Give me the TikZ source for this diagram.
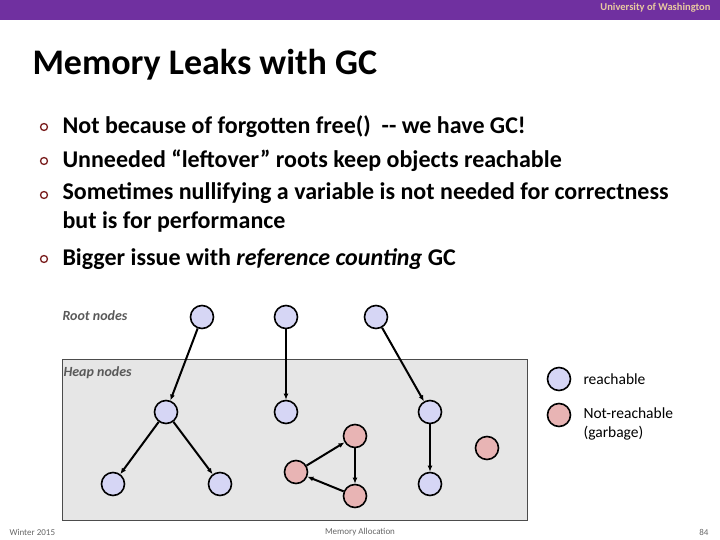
\documentclass[tikz,border=0pt]{standalone}
\usepackage{fontspec}
\setmainfont{Carlito}
\usetikzlibrary{arrows.meta}
\definecolor{uwpurple}{HTML}{7030A0}
\definecolor{uwgold}{HTML}{E8C9A0}
\definecolor{blu}{HTML}{D6D6F5}
\definecolor{pnk}{HTML}{E8B4B4}
\definecolor{heap}{HTML}{E6E6E6}
\definecolor{bul}{HTML}{7A1E1E}
\tikzset{
 nd/.style={circle,draw=black,line width=1.6pt,minimum size=23pt,inner sep=0pt},
 rn/.style={nd,fill=blu},
 gn/.style={nd,fill=pnk},
 ar/.style={-{Latex[length=6pt,width=5pt]},line width=2pt},
 lbl/.style={font=\bfseries\itshape\fontsize{14}{16}\selectfont,text=black!65,anchor=west},
 bl/.style={circle,draw=bul,line width=1.3pt,minimum size=7pt,inner sep=0pt},
 bt/.style={anchor=west,font=\bfseries\fontsize{24}{29}\selectfont,align=left},
 ft/.style={font=\fontsize{9}{10}\selectfont,text=black!60}
}
\begin{document}
\begin{tikzpicture}[x=1pt,y=-1pt]
\useasboundingbox (0,0) rectangle (720,540);
\fill[uwpurple] (0,0) rectangle (720,20);
\node[anchor=east,text=uwgold,font=\bfseries\fontsize{10.5}{11}\selectfont] (uw) at (714,8) {University of Washington};
\node[anchor=west,font=\bfseries\fontsize{36}{40}\selectfont] (title) at (29,65) {Memory Leaks with GC};
\node[bl] (b1) at (44,127) {}; \node[bt] (t1) at (59,127) {Not because of forgotten free() \ {-}{-} we have GC!};
\node[bl] (b2) at (44,161) {}; \node[bt] (t2) at (59,161) {Unneeded “leftover” roots keep objects reachable};
\node[bl] (b3) at (44,195) {}; \node[bt,anchor=north west] (t3) at (59,179) {Sometimes nullifying a variable is not needed for correctness\\but is for performance};
\node[bl] (b4) at (44,259) {}; \node[bt] (t4) at (59,259) {Bigger issue with \textit{reference counting} GC};
\draw[fill=heap,draw=black!70,line width=0.8pt] (62,359) rectangle (527,520);
\node[lbl] (rl) at (59,316) {Root nodes};
\node[lbl] (hl) at (60,373) {Heap nodes};
\node[rn] (r1) at (202,317) {}; \node[rn] (r2) at (286,317) {}; \node[rn] (r3) at (376,317) {};
\node[rn] (a) at (166,412) {}; \node[rn] (b) at (286,412) {}; \node[rn] (c) at (430,412) {};
\node[rn] (d) at (113,484) {}; \node[rn] (e) at (220,484) {}; \node[rn] (f) at (430,484) {};
\node[gn] (g1) at (355,436) {}; \node[gn] (g2) at (296,472) {}; \node[gn] (g3) at (355,496) {};
\node[gn] (g) at (487,448) {};
\draw[ar] (r1) -- (a); \draw[ar] (r2) -- (b); \draw[ar] (r3) -- (c);
\draw[ar] (a) -- (d); \draw[ar] (a) -- (e); \draw[ar] (c) -- (f);
\draw[ar] (g1) -- (g3); \draw[ar] (g3) -- (g2); \draw[ar] (g2) -- (g1);
\node[rn] (lb) at (559,379) {}; \node[gn] (lp) at (559,415) {};
\node[anchor=west,font=\fontsize{15.5}{18}\selectfont] (lbt) at (580,379) {reachable};
\node[anchor=north west,align=left,font=\fontsize{15.5}{19.5}\selectfont] (lpt) at (580,404) {Not-reachable\\(garbage)};
\node[ft,anchor=west] (f1) at (6,532) {Winter 2015};
\node[ft] (f2) at (360,532) {Memory Allocation};
\node[ft,anchor=east] (f3) at (712,532) {84};
\end{tikzpicture}
\end{document}
